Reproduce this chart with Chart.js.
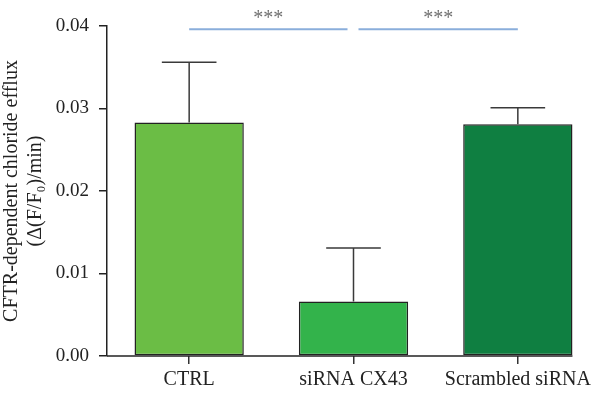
<!DOCTYPE html>
<html>
<head>
<meta charset="utf-8">
<script src="https://cdn.jsdelivr.net/npm/chart.js@4/dist/chart.umd.min.js"></script>
<style>
  html, body { margin: 0; padding: 0; background: #fff; }
  #wrap { width: 600px; height: 396px; }
</style>
</head>
<body>
<div id="wrap"><canvas id="effluxChart" width="600" height="396"></canvas></div>
<script>
// data
const categories = ['CTRL', 'siRNA CX43', 'Scrambled siRNA'];
const means = [0.0283, 0.0066, 0.0281];
const errors = [0.0073, 0.0065, 0.0020];
const barColors = ['#6bbd45', '#33b34b', '#0f7f41'];
const yTickLabels = ['0.00', '0.01', '0.02', '0.03', '0.04'];
// significance brackets: [from category, to category, label]
const brackets = [[0, 1, '***'], [1, 2, '***']];

const serif = '"Liberation Serif", "DejaVu Serif", serif';

// error bars, x-axis baseline and significance marks
const extrasPlugin = {
  id: 'extras',
  afterDatasetsDraw(chart) {
    const ctx = chart.ctx;
    const x = chart.scales.x, y = chart.scales.y;
    const bars = chart.getDatasetMeta(0).data;
    ctx.save();

    // whiskers (upper only)
    ctx.strokeStyle = '#3a3a3a';
    ctx.lineWidth = 1.5;
    bars.forEach((bar, i) => {
      const cx = bar.x;
      const top = y.getPixelForValue(means[i] + errors[i]);
      const half = bar.width / 4;
      ctx.beginPath();
      ctx.moveTo(cx, bar.y);
      ctx.lineTo(cx, top);
      ctx.moveTo(cx - half, top);
      ctx.lineTo(cx + half, top);
      ctx.stroke();
    });

    // x-axis line, stops at the last bar
    const last = bars[bars.length - 1];
    const y0 = y.getPixelForValue(0);
    ctx.strokeStyle = '#222';
    ctx.lineWidth = 1.5;
    ctx.beginPath();
    ctx.moveTo(chart.chartArea.left, y0);
    ctx.lineTo(last.x + last.width / 2, y0);
    ctx.stroke();

    // brackets
    const ly = y.getPixelForValue(0.0396);
    brackets.forEach(([a, b, label], k) => {
      const xa = x.getPixelForValue(a) + (k > 0 ? 5 : 0);
      const xb = x.getPixelForValue(b) - (k === 0 ? 6 : 0);
      ctx.strokeStyle = '#8aaedb';
      ctx.lineWidth = 2;
      ctx.beginPath();
      ctx.moveTo(xa, ly);
      ctx.lineTo(xb, ly);
      ctx.stroke();
      ctx.fillStyle = '#707070';
      ctx.font = '20px ' + serif;
      ctx.textAlign = 'center';
      ctx.textBaseline = 'middle';
      ctx.fillText(label, (xa + xb) / 2, ly - 11);
    });
    ctx.restore();
  }
};

new Chart(document.getElementById('effluxChart'), {
  type: 'bar',
  data: {
    labels: categories,
    datasets: [{
      data: means,
      backgroundColor: barColors,
      borderColor: '#222',
      borderWidth: 1.5,
      borderSkipped: false,
      categoryPercentage: 0.665,
      barPercentage: 1
    }]
  },
  options: {
    responsive: false,
    animation: false,
    layout: { padding: { top: 26, right: 0, bottom: 0, left: 0 } },
    plugins: { legend: { display: false }, tooltip: { enabled: false } },
    scales: {
      x: {
        offset: true,
        border: { display: false },
        grid: { offset: false, drawOnChartArea: false, tickLength: 8, color: '#333', lineWidth: 1.5 },
        ticks: { color: '#222', font: { family: serif, size: 20 }, padding: 4, maxRotation: 0 },
        afterFit: s => { s.height = 40; }
      },
      y: {
        min: 0,
        max: 0.04,
        border: { color: '#222', width: 1.5 },
        grid: { drawOnChartArea: false, tickLength: 8, color: '#222', lineWidth: 1.5 },
        ticks: {
          stepSize: 0.01,
          color: '#222',
          padding: 10,
          font: { family: serif, size: 19 },
          callback: (v, i) => yTickLabels[i]
        },
        title: {
          display: true,
          text: ['CFTR-dependent chloride efflux', '(\u0394(F/F\u2080)/min)'],
          color: '#222',
          font: { family: serif, size: 20 },
          lineHeight: 1.25,
          padding: { top: 0, bottom: 0 }
        },
        afterFit: s => { s.width = 107; }
      }
    }
  },
  plugins: [extrasPlugin]
});
</script>
</body>
</html>
